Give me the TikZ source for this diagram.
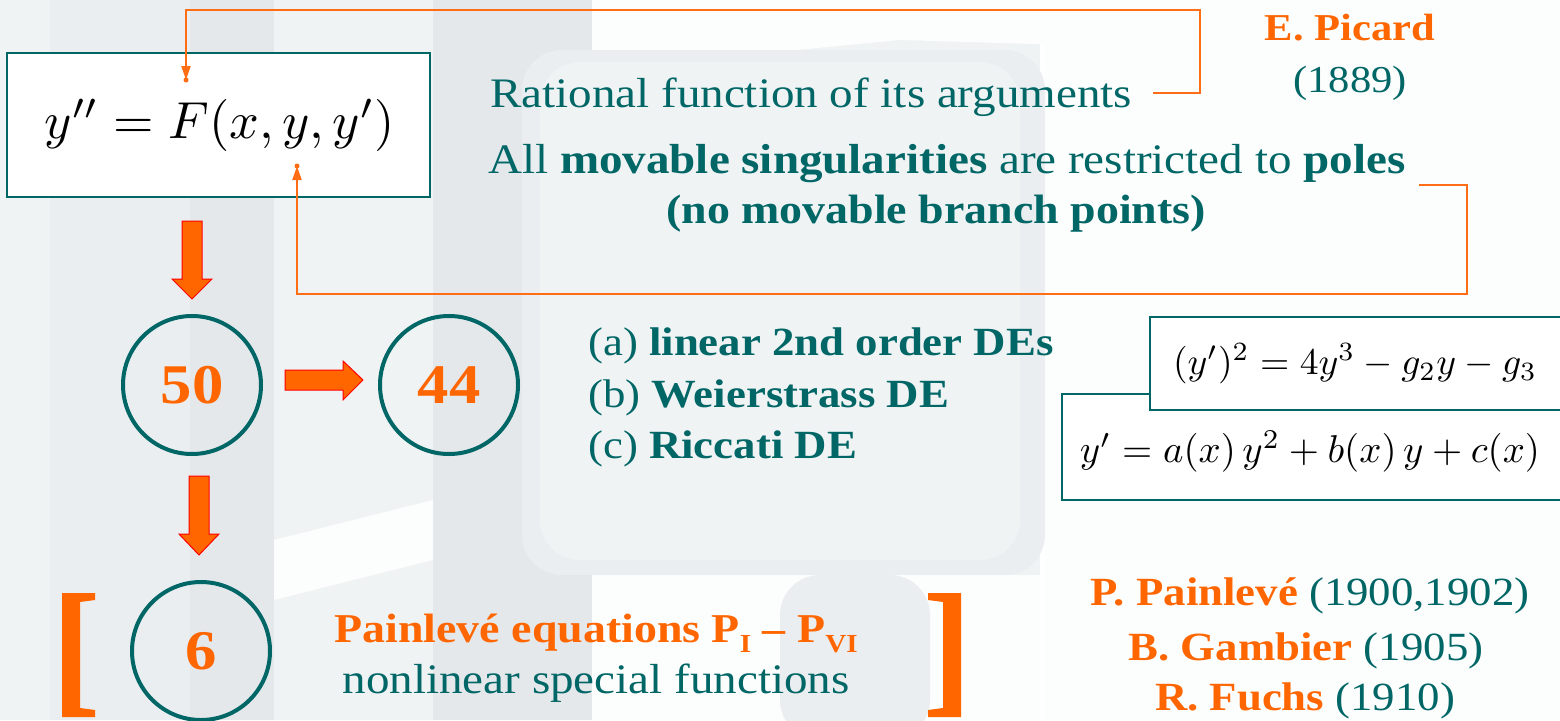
\documentclass[tikz,border=0pt]{standalone}
\usepackage{graphicx}
\usepackage{fontspec}
\setmainfont{Liberation Serif}[FakeStretch=1.12]
\usetikzlibrary{arrows.meta}
\definecolor{teal1}{RGB}{0,102,102}
\definecolor{orng}{RGB}{255,102,0}
\definecolor{lnorng}{RGB}{255,110,20}
\definecolor{bgA}{RGB}{240,243,244}
\definecolor{bgB}{RGB}{228,232,235}
\definecolor{bgC}{RGB}{234,238,240}
\definecolor{bgW}{RGB}{252,253,253}
\tikzset{
  txt/.style={text=teal1,inner sep=0pt,font=\fontsize{42}{48}\selectfont},
  nametxt/.style={text=teal1,inner sep=0pt,font=\fontsize{40}{48}\selectfont},
  eqbox/.style={draw=teal1,line width=1.5pt,fill=white,inner sep=0pt},
  numcirc/.style={circle,draw=teal1,line width=4pt,minimum size=138pt,inner sep=0pt,text=orng,font=\fontsize{56}{60}\selectfont\bfseries},
  blockarrow/.style={fill=orng,draw=red,line width=1pt},
  conn/.style={draw=lnorng,line width=2pt},
  tipdot/.style={fill=lnorng,circle,inner sep=0pt,minimum size=5pt},
  brk/.style={fill=orng,draw=none}
}
\begin{document}
\begin{tikzpicture}[x=1pt,y=-1pt]
\useasboundingbox (0,0) rectangle (1560,720);
% background watermark approximation
\fill[white] (0,0) rectangle (1560,720);
\fill[bgA] (0,0) rectangle (1040,720);
\fill[bgC] (50,0) rectangle (190,720);
\fill[bgB] (190,0) rectangle (274,720);
\fill[bgA] (274,0) rectangle (433,720);
\fill[bgB] (433,0) rectangle (592,720);
\fill[bgW] (592,0) -- (1560,0) -- (1560,60) -- (900,40) -- (592,70) -- cycle;
\fill[bgC, rounded corners=40pt] (522,50) rectangle (1045,575);
\fill[bgA, rounded corners=40pt] (540,62) rectangle (1020,560);
\fill[bgW] (1045,0) rectangle (1560,720);
\fill[bgW] (592,575) -- (1040,575) -- (1040,720) -- (592,720) -- cycle;
\fill[bgC, rounded corners=40pt] (780,575) rectangle (930,740);
\fill[bgW] (274,540) -- (433,500) -- (433,560) -- (274,600) -- cycle;

% main equation box
\node[eqbox,minimum width=423pt,minimum height=144pt] (box1) at (218.5,125) {};
\node[inner sep=0pt] (eq1) at (220,125) {\resizebox{350pt}{!}{$y'' = F(x,y,y')$}};

% texts
\node[txt,anchor=base west] (rat) at (490,107) {Rational function of its arguments};
\node[txt,anchor=base west] (mov) at (488,173) {All \textbf{movable singularities} are restricted to \textbf{poles}};
\node[txt,anchor=base,font=\fontsize{41}{48}\selectfont] (nob) at (936,223) {\textbf{(no movable branch points)}};
\node[nametxt,anchor=base,text=orng,font=\fontsize{38}{48}\selectfont\bfseries] (picard) at (1350,40) {E. Picard};
\node[nametxt,anchor=base,font=\fontsize{38}{48}\selectfont] (yr) at (1350,92) {(1889)};

% connectors
\coordinate (r1) at (1153,93);
\coordinate (t1) at (186,80);
\draw[conn,-{Triangle[width=9pt,length=14pt]}] (r1) -- (1200,93) -- (1200,10) -- (186,10) -- (t1);
\node[tipdot] at (t1) {};
\coordinate (r2) at (1419,185);
\coordinate (t2) at (297,166);
\draw[conn,-{Triangle[width=9pt,length=14pt]}] (r2) -- (1467,185) -- (1467,294) -- (297,294) -- (t2);
\node[tipdot] at (t2) {};

% circles
\node[numcirc] (c50) at (192,385) {50};
\node[numcirc] (c44) at (449,385) {44};
\node[numcirc] (c6) at (201,651) {6};

% block arrows
\draw[blockarrow] (182,221) -- (202,221) -- (202,279) -- (212,279) -- (192,299) -- (172,279) -- (182,279) -- cycle;
\draw[blockarrow] (285,370) -- (343,370) -- (343,361) -- (363,380) -- (343,400) -- (343,390) -- (285,390) -- cycle;
\draw[blockarrow] (189,476) -- (209,476) -- (209,534) -- (219,534) -- (199,555) -- (179,534) -- (189,534) -- cycle;

% list
\node[txt,anchor=base west,font=\fontsize{40}{48}\selectfont] (la) at (588,355) {(a) \textbf{linear 2nd order DEs}};
\node[txt,anchor=base west,font=\fontsize{40}{48}\selectfont] (lb) at (588,407) {(b) \textbf{Weierstrass DE}};
\node[txt,anchor=base west,font=\fontsize{40}{48}\selectfont] (lc) at (588,458) {(c) \textbf{Riccati DE}};

% equation boxes right
\draw[eqbox] (1062,394) rectangle (1575,500);
\node[inner sep=0pt] (eq3) at (1310,452) {\resizebox{460pt}{!}{$y' = a(x)\,y^2 + b(x)\,y + c(x)$}};
\draw[eqbox] (1150,317) rectangle (1575,410);
\node[inner sep=0pt] (eq2) at (1355,364) {\resizebox{364pt}{!}{$(y')^2 = 4y^3 - g_2y - g_3$}};

% Painleve
\node[txt,anchor=base,text=orng,font=\fontsize{41}{48}\selectfont\bfseries] (pain) at (596,642) {Painlevé equations P\raisebox{-0.25em}{\fontsize{26}{30}\selectfont I} -- P\raisebox{-0.25em}{\fontsize{26}{30}\selectfont VI}};
\node[txt,anchor=base] (nsf) at (596,693) {nonlinear special functions};

% brackets
\fill[brk] (62,593) -- (95,593) -- (95,600) -- (80,602) -- (80,708) -- (95,710) -- (95,717) -- (62,717) -- cycle;
\fill[brk] (961,593) -- (928,593) -- (928,600) -- (943,602) -- (943,708) -- (928,710) -- (928,717) -- (961,717) -- cycle;

% names
\node[nametxt,anchor=base] (pp) at (1310,605) {\textcolor{orng}{\textbf{P. Painlevé}} (1900,1902)};
\node[nametxt,anchor=base] (bg) at (1306,660) {\textcolor{orng}{\textbf{B. Gambier}} (1905)};
\node[nametxt,anchor=base] (rf) at (1305,710) {\textcolor{orng}{\textbf{R. Fuchs}} (1910)};
\end{tikzpicture}
\end{document}
